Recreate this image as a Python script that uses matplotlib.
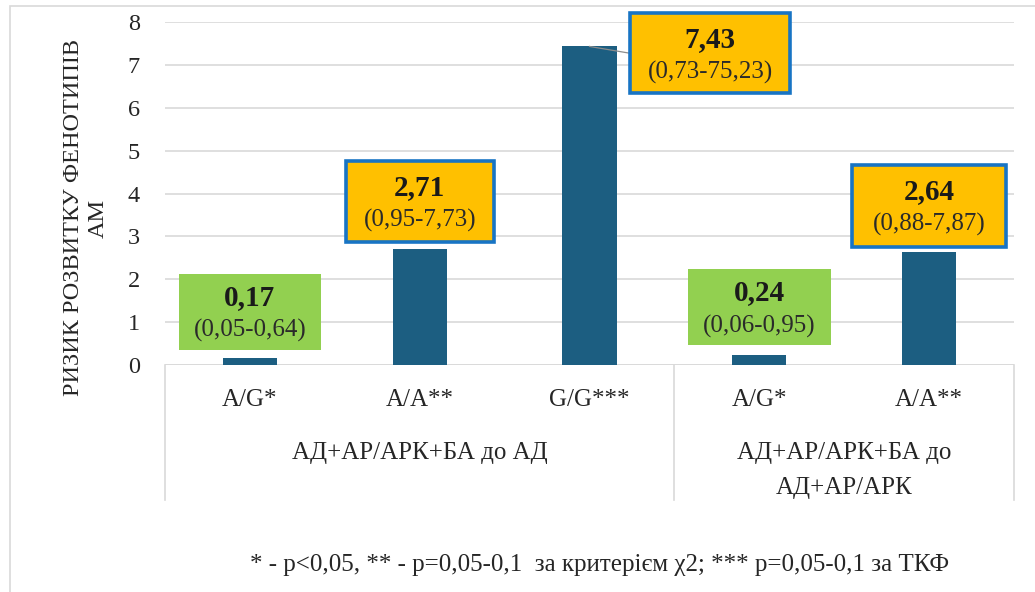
import numpy as np
import matplotlib.pyplot as plt
from matplotlib.patches import Rectangle
from matplotlib.transforms import blended_transform_factory

plt.rcParams['font.family'] = ['Liberation Serif', 'DejaVu Serif']

# odds ratios with 95% CI per genotype
genotypes = ['A/G*', 'A/A**', 'G/G***', 'A/G*', 'A/A**']
odds_ratio = [0.17, 2.71, 7.43, 0.24, 2.64]
ci_low = [0.05, 0.95, 0.73, 0.06, 0.88]
ci_high = [0.64, 7.73, 75.23, 0.95, 7.87]
groups = ['АД+АР/АРК+БА до АД', 'АД+АР/АРК+БА до\nАД+АР/АРК']
group_sizes = [3, 2]
y_ticks = [0, 1, 2, 3, 4, 5, 6, 7, 8]
ylabel = 'РИЗИК РОЗВИТКУ ФЕНОТИПІВ\nАМ'
footnote = '* - p<0,05, ** - p=0,05-0,1  за критерієм χ2; *** p=0,05-0,1 за ТКФ'

# label box layout (offset of box centre from bar top, box size)
lab_dx = [0, 0, 0.71, 0, 0]
lab_dy = [1.07, 1.11, -0.16, 1.11, 1.07]
box_w = [0.84, 0.87, 0.94, 0.84, 0.91]
box_h = [1.78, 1.88, 1.86, 1.78, 1.91]

BAR = '#1C5E81'
GREEN = '#92D050'
ORANGE = '#FFC000'
BLUE = '#1874C4'
GRID = '#D9D9D9'
TXT = '#262626'

fig = plt.figure(figsize=(10.35, 5.92), dpi=100)
ax = fig.add_axes([165 / 1035, 1 - 365 / 592, (1014 - 165) / 1035, 343 / 592])

x = np.arange(len(odds_ratio))
ax.bar(x, odds_ratio, width=0.32, color=BAR, zorder=3)

ax.set_xlim(-0.5, len(x) - 0.5)
ax.set_ylim(0, 8)
ax.set_yticks(y_ticks)
ax.set_yticklabels([str(t) for t in y_ticks], fontsize=17.5, color=TXT)
ax.set_xticks([])
ax.tick_params(axis='y', length=0, pad=18)
for s in ax.spines.values():
    s.set_visible(False)
ax.yaxis.grid(True, color=GRID, lw=1.2, zorder=0)
ax.set_axisbelow(True)
ax.axhline(0, color=GRID, lw=1.2, zorder=2)

trans = blended_transform_factory(ax.transData, ax.transAxes)

# genotype labels
for xi, g in zip(x, genotypes):
    ax.text(xi, -0.102, g, transform=trans, ha='center', va='center',
            fontsize=18, color=TXT, clip_on=False)

# group separators and group names
edges = np.concatenate([[0], np.cumsum(group_sizes)]) - 0.5
for e in edges:
    ax.plot([e, e], [0, -0.394], transform=trans, color=GRID, lw=1.2,
            clip_on=False)
for i, name in enumerate(groups):
    cx = (edges[i] + edges[i + 1]) / 2
    ax.text(cx, -0.225, name, transform=trans, ha='center', va='top',
            fontsize=18, color=TXT, linespacing=1.75, clip_on=False)

# value labels with confidence intervals
for i, v in enumerate(odds_ratio):
    cx = x[i] + lab_dx[i]
    cy = v + lab_dy[i]
    significant = ci_high[i] < 1
    if significant:
        patch = Rectangle((cx - box_w[i] / 2, cy - box_h[i] / 2), box_w[i], box_h[i],
                          facecolor=GREEN, edgecolor='none', zorder=5)
    else:
        patch = Rectangle((cx - box_w[i] / 2, cy - box_h[i] / 2), box_w[i], box_h[i],
                          facecolor=ORANGE, edgecolor=BLUE, lw=2.6, zorder=5)
    ax.add_patch(patch)
    patch.set_clip_on(False)
    ax.text(cx, cy + 0.33, f'{v:.2f}'.replace('.', ','), ha='center', va='center',
            fontsize=21, fontweight='bold', color='#1a1a1a', zorder=6)
    ci = f'({ci_low[i]:.2f}-{ci_high[i]:.2f})'.replace('.', ',')
    ax.text(cx, cy - 0.44, ci, ha='center', va='center',
            fontsize=18, color='#2a2a2a', zorder=6)
    if lab_dx[i] != 0:
        ax.plot([x[i], cx - box_w[i] / 2], [v, cy], color='#8c8c8c', lw=0.9, zorder=4)

fig.text(86 / 1035, 1 - 218 / 592, ylabel, rotation=90, ha='center', va='center',
         multialignment='center', fontsize=17.5, color=TXT)

fig.text(600 / 1035, 1 - 565 / 592, footnote, ha='center', va='center',
         fontsize=18, color=TXT)

# outer frame
fig.patches.append(Rectangle((10 / 1035, -0.1), 1.2, 1.1 - 6 / 592,
                             transform=fig.transFigure, fill=False,
                             edgecolor=GRID, lw=1.2))

fig.savefig('out.png', dpi=100)
